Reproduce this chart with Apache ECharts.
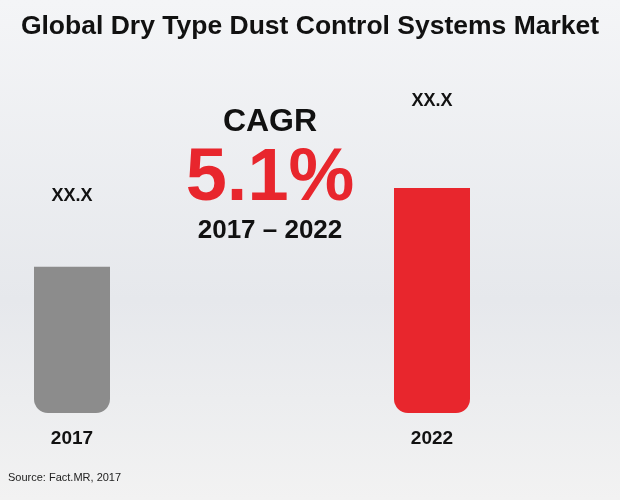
<!DOCTYPE html>
<html><head><meta charset="utf-8">
<script src="https://cdn.jsdelivr.net/npm/echarts@6/dist/echarts.min.js"></script>
<style>html,body{margin:0;padding:0;}#c{width:620px;height:500px;}</style>
</head><body><div id="c"></div>
<script>
const categories = ['2017', '', '', '', '2022'];
const values = [65, null, null, null, 100];
const barLabels = ['XX.X', '', '', '', 'XX.X'];
const barColors = ['#8c8c8c', null, null, null, '#e8262d'];
const labelGaps = [62, 0, 0, 0, 78];

const chart = echarts.init(document.getElementById('c'));
chart.setOption({
  backgroundColor: {type:'linear',x:0,y:0,x2:0,y2:1,colorStops:[{offset:0,color:'#f4f5f7'},{offset:0.6,color:'#e6e8ec'},{offset:1,color:'#f2f2f2'}]},
  grid: {left: 27, right: 143, top: 188, bottom: 87},
  xAxis: {type:'category', data: categories, axisLine:{show:false}, axisTick:{show:false},
    axisLabel:{color:'#111', fontSize:19, fontWeight:'bold', fontFamily:'Liberation Sans', margin:16}},
  yAxis: {type:'value', min:0, max:100, show:false},
  series: [{
    type:'bar', barWidth: 76,
    data: values.map((v,i)=> v==null ? null : ({value:v,
      itemStyle:{color:barColors[i], borderRadius:[0,0,14,14]},
      label:{show:true, position:'top', distance:labelGaps[i], formatter:barLabels[i],
        color:'#111', fontSize:18, fontWeight:'bold', fontFamily:'Liberation Sans'}}))
  }],
  graphic: [
    {type:'text', left:'center', top:13, style:{text:'Global Dry Type Dust Control Systems Market', fill:'#111', font:'bold 26.5px "Liberation Sans"'}},
    {type:'text', x:270, y:106, style:{text:'CAGR', fill:'#111', font:'bold 32px "Liberation Sans"', textAlign:'center'}},
    {type:'text', x:270, y:143, style:{text:'5.1%', fill:'#e8262d', font:'bold 74px "Liberation Sans"', textAlign:'center'}},
    {type:'text', x:270, y:218, style:{text:'2017 – 2022', fill:'#111', font:'bold 26px "Liberation Sans"', textAlign:'center'}},
    {type:'text', x:8, y:472, style:{text:'Source: Fact.MR, 2017', fill:'#222', font:'11px "Liberation Sans"'}}
  ]
});
</script></body></html>
